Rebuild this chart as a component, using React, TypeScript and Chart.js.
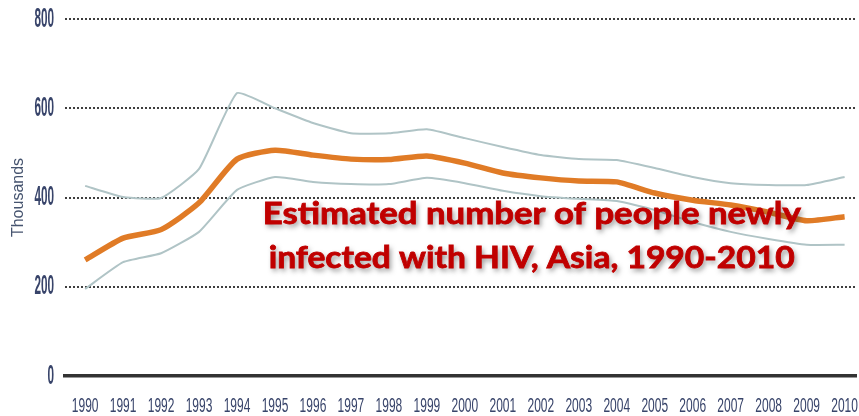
import React, { useEffect, useRef } from 'react';
import { Chart, registerables } from 'chart.js';

Chart.register(...registerables);

// New HIV infections in Asia (thousands): central estimate with upper/lower bounds
const YEARS = [1990, 1991, 1992, 1993, 1994, 1995, 1996, 1997, 1998, 1999, 2000, 2001, 2002, 2003, 2004, 2005, 2006, 2007, 2008, 2009, 2010];
const ESTIMATE = [260, 309, 328, 388, 486, 506, 495, 486, 485, 493, 477, 455, 444, 437, 435, 410, 394, 383, 367, 348, 357];
const UPPER = [426, 401, 399, 464, 634, 600, 567, 544, 544, 553, 533, 513, 495, 486, 484, 466, 446, 432, 428, 428, 446];
const LOWER = [195, 255, 275, 323, 417, 446, 435, 430, 430, 444, 432, 415, 403, 397, 392, 372, 345, 323, 307, 294, 294];
const Y_TICKS = [0, 200, 400, 600, 800];
const TITLE_LINES = ['Estimated number of people newly', 'infected with HIV, Asia, 1990-2010'];

const AXIS_TEXT = '#38446a';
const SANS = "'Liberation Sans', Arial, sans-serif";

// Tall, narrow axis numbers, placed at the scales' own tick positions
const condensedTicksPlugin = {
  id: 'condensedTicks',
  afterDraw(chart: any) {
    const { ctx, scales } = chart;
    ctx.save();
    ctx.fillStyle = AXIS_TEXT;
    ctx.textBaseline = 'middle';

    // y axis labels, right-aligned against the plot
    ctx.font = `bold 28px ${SANS}`;
    ctx.textAlign = 'right';
    const yRight = scales.y.right - 11;
    Y_TICKS.forEach((v) => {
      const py = scales.y.getPixelForValue(v);
      ctx.save();
      ctx.translate(yRight, py);
      ctx.scale(0.42, 1);
      ctx.fillText(String(v), 0, 0);
      ctx.restore();
    });

    // x axis year labels
    ctx.font = `20px ${SANS}`;
    ctx.textAlign = 'center';
    const xMid = scales.x.top + 30;
    YEARS.forEach((v) => {
      const px = scales.x.getPixelForValue(v);
      ctx.save();
      ctx.translate(px, xMid);
      ctx.scale(0.6, 1);
      ctx.fillText(String(v), 0, 0);
      ctx.restore();
    });
    ctx.restore();
  },
};

// Overlay caption, positioned in data units via the chart's scales
const captionPlugin = {
  id: 'caption',
  afterDatasetsDraw(chart: any) {
    const { ctx, scales } = chart;
    const cx = scales.x.getPixelForValue(2001.76);
    const baselines = [scales.y.getPixelForValue(340), scales.y.getPixelForValue(242)];
    const widths = [538, 526];
    ctx.save();
    ctx.font = "bold 30px Lato, 'Open Sans', sans-serif";
    ctx.fillStyle = '#c00000';
    ctx.strokeStyle = '#c00000';
    ctx.lineWidth = 0.8;
    ctx.textAlign = 'left';
    ctx.textBaseline = 'alphabetic';
    TITLE_LINES.forEach((line, i) => {
      const natural = ctx.measureText(line).width;
      ctx.save();
      ctx.translate(cx - widths[i] / 2, baselines[i]);
      ctx.scale(widths[i] / natural, 1);
      ctx.shadowColor = 'rgba(40,40,40,0.5)';
      ctx.shadowBlur = 5;
      ctx.shadowOffsetX = 2;
      ctx.shadowOffsetY = 3;
      ctx.fillText(line, 0, 0);
      ctx.shadowColor = 'rgba(0,0,0,0)';
      ctx.strokeText(line, 0, 0);
      ctx.restore();
    });
    ctx.restore();
  },
};

export default function App() {
  const canvasRef = useRef<HTMLCanvasElement | null>(null);

  useEffect(() => {
    document.body.style.margin = '0';
    const canvas = canvasRef.current;
    if (!canvas) return;
    const toPoints = (vals: number[]) => YEARS.map((y, i) => ({ x: y, y: vals[i] }));
    const chart = new Chart(canvas, {
      type: 'line',
      data: {
        datasets: [
          {
            label: 'Estimate',
            data: toPoints(ESTIMATE),
            borderColor: '#e07b26',
            borderWidth: 5.5,
            pointRadius: 0,
            tension: 0.2,
            order: 0,
          },
          {
            label: 'Upper bound',
            data: toPoints(UPPER),
            borderColor: '#b0c4c6',
            borderWidth: 2,
            pointRadius: 0,
            tension: 0.15,
            order: 1,
          },
          {
            label: 'Lower bound',
            data: toPoints(LOWER),
            borderColor: '#b0c4c6',
            borderWidth: 2,
            pointRadius: 0,
            tension: 0.15,
            order: 1,
          },
        ],
      },
      options: {
        animation: false,
        responsive: true,
        maintainAspectRatio: false,
        layout: { padding: { top: 19, right: 3, left: 0, bottom: 0 } },
        plugins: {
          legend: { display: false },
          tooltip: { enabled: false },
        },
        scales: {
          x: {
            type: 'linear',
            min: 1989.47,
            max: 2010.3,
            afterBuildTicks: (scale: any) => {
              scale.ticks = YEARS.map((v) => ({ value: v }));
            },
            afterFit: (scale: any) => {
              scale.height = 40;
            },
            grid: { display: false, drawTicks: false },
            border: { display: true, color: '#333333', width: 3.5 },
            ticks: { display: false },
          },
          y: {
            min: 0,
            max: 800,
            afterBuildTicks: (scale: any) => {
              scale.ticks = Y_TICKS.map((v) => ({ value: v }));
            },
            afterFit: (scale: any) => {
              scale.width = 65;
            },
            grid: {
              drawTicks: false,
              lineWidth: 2,
              color: (ctx: any) => (ctx.tick && ctx.tick.value === 0 ? 'rgba(0,0,0,0)' : '#3e3e3e'),
            },
            border: { display: false, dash: [2, 2] },
            ticks: { display: false },
            title: {
              display: true,
              text: 'Thousands',
              color: '#46546f',
              font: { family: SANS, size: 16 },
              padding: { top: 9, bottom: 0 },
            },
          },
        },
      },
      plugins: [captionPlugin, condensedTicksPlugin],
    });
    return () => chart.destroy();
  }, []);

  return (
    <div style={{ position: 'relative', width: 859, height: 416, background: '#ffffff' }}>
      <canvas ref={canvasRef} />
    </div>
  );
}
